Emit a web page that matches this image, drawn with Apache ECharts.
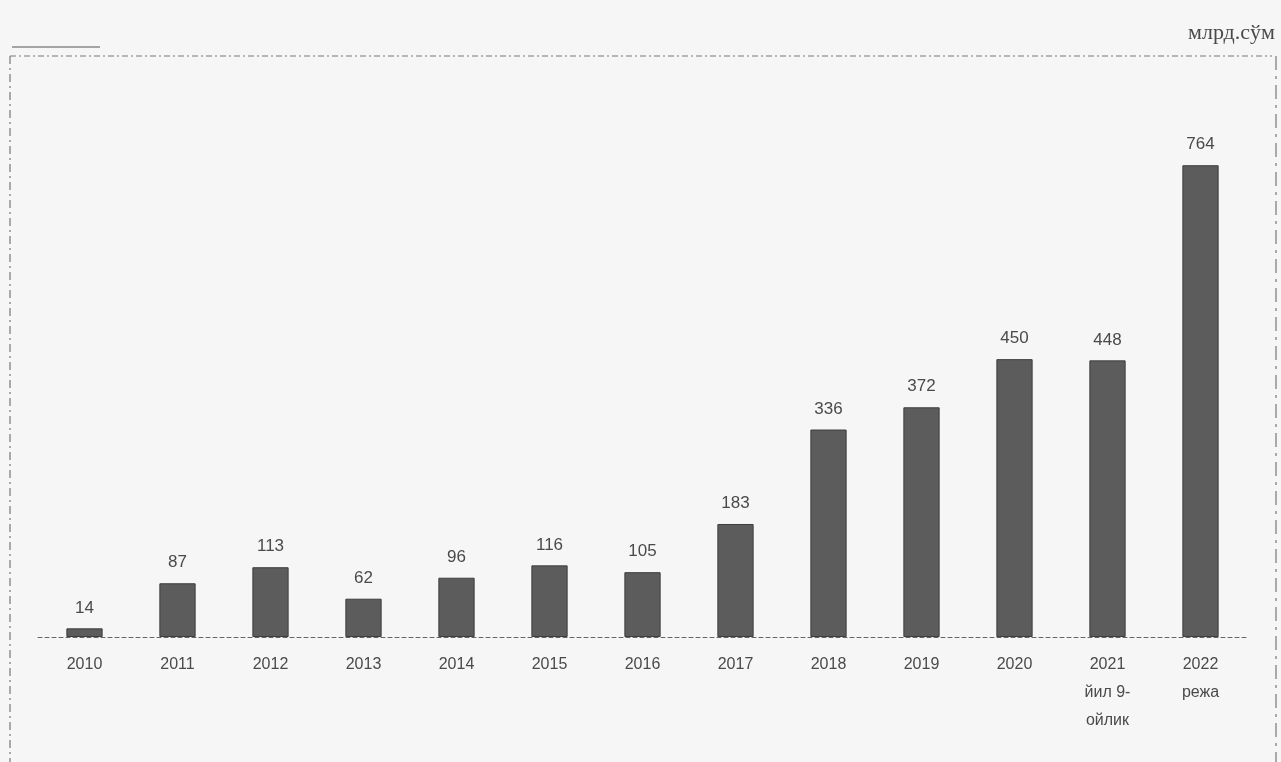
<!DOCTYPE html>
<html>
<head>
<meta charset="utf-8">
<script src="https://cdn.jsdelivr.net/npm/echarts@6/dist/echarts.min.js"></script>
<style>html,body{margin:0;padding:0;background:#f6f6f6;}#c{width:1281px;height:762px;}</style>
</head>
<body>
<div id="c"></div>
<script>
var categories = ['2010','2011','2012','2013','2014','2015','2016','2017','2018','2019','2020','2021\nйил 9-\nойлик','2022\nрежа'];
var values = [14, 87, 113, 62, 96, 116, 105, 183, 336, 372, 450, 448, 764];
var unitLabel = 'млрд.сўм';

var chart = echarts.init(document.getElementById('c'));
chart.setOption({
  backgroundColor: '#f6f6f6',
  animation: false,
  grid: {left: 38, right: 34, top: 143, bottom: 125},
  graphic: [
    {type: 'line', shape: {x1: 10, y1: 56, x2: 1272, y2: 56}, style: {stroke: '#777', lineWidth: 1.2, lineDash: [6, 3, 2, 3]}},
    {type: 'line', shape: {x1: 10, y1: 56, x2: 10, y2: 762}, style: {stroke: '#777', lineWidth: 1.2, lineDash: [8, 4, 2, 4]}},
    {type: 'line', shape: {x1: 1276, y1: 56, x2: 1276, y2: 762}, style: {stroke: '#777', lineWidth: 1.2, lineDash: [14, 6, 3, 6]}},
    {type: 'line', shape: {x1: 12, y1: 47, x2: 100, y2: 47}, style: {stroke: '#888', lineWidth: 1.5}},
    {type: 'text', right: 6, top: 22, style: {text: unitLabel, font: '22px "Liberation Serif", "DejaVu Serif", serif', fill: '#4a4a4a'}}
  ],
  xAxis: {
    type: 'category',
    data: categories,
    axisLine: {show: true, lineStyle: {color: '#666', type: [4, 3], width: 1}},
    axisTick: {show: false},
    axisLabel: {
      color: '#4a4a4a', fontSize: 16, lineHeight: 28, margin: 14,
      fontFamily: '"Liberation Sans Narrow", "Liberation Sans", sans-serif'
    }
  },
  yAxis: {type: 'value', min: 0, max: 800, show: false, splitLine: {show: false}},
  series: [{
    type: 'bar',
    data: values,
    barWidth: '39%',
    itemStyle: {color: '#5c5c5c', borderColor: '#3e3e3e', borderWidth: 1},
    label: {
      show: true, position: 'top', distance: 12,
      color: '#4a4a4a', fontSize: 17,
      fontFamily: '"Liberation Sans Narrow", "Liberation Sans", sans-serif'
    }
  }]
});
</script>
</body>
</html>
